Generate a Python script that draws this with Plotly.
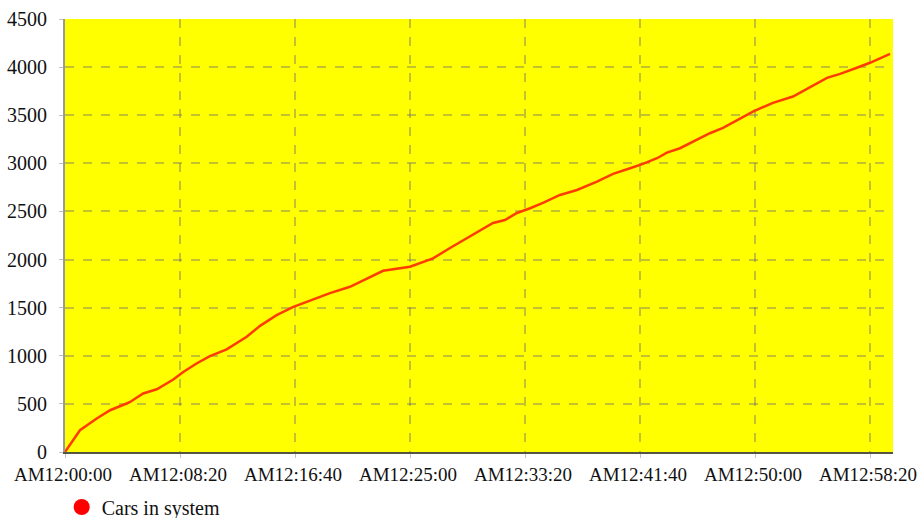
import plotly.graph_objects as go

# elapsed seconds since AM12:00:00
t_sec = [0, 65, 138, 196, 268, 283, 340, 399, 471, 514, 572, 630, 703, 790, 848, 920,
         993, 1152, 1239, 1383, 1500, 1600, 1674, 1774, 1861, 1913, 1965, 2022, 2078,
         2152, 2226, 2313, 2383, 2457, 2513, 2574, 2617, 2674, 2730, 2804, 2861, 2991,
         3078, 3165, 3313, 3370, 3443, 3500, 3587]
cars = [0, 226, 348, 434, 504, 520, 608, 652, 753, 832, 920, 996, 1066, 1197, 1311, 1422,
        1509, 1651, 1717, 1883, 1925, 2012, 2120, 2255, 2380, 2411, 2484, 2533, 2588,
        2671, 2723, 2810, 2890, 2949, 2994, 3053, 3111, 3157, 3226, 3313, 3368, 3538,
        3629, 3694, 3889, 3930, 3993, 4045, 4138]

x_tickvals = [0, 500, 1000, 1500, 2000, 2500, 3000, 3500]
x_ticktext = ["AM12:00:00", "AM12:08:20", "AM12:16:40", "AM12:25:00",
              "AM12:33:20", "AM12:41:40", "AM12:50:00", "AM12:58:20"]
y_tickvals = [0, 500, 1000, 1500, 2000, 2500, 3000, 3500, 4000, 4500]
series_name = "Cars in system"

FONT = "Liberation Serif, Times New Roman, serif"
GRID = "rgba(110,110,110,0.42)"

fig = go.Figure()
fig.add_trace(go.Scatter(x=t_sec, y=cars, mode="lines",
                         line=dict(color="#ff3c00", width=2.5),
                         showlegend=False, hoverinfo="x+y"))
fig.add_trace(go.Scatter(x=[None], y=[None], mode="markers", name=series_name,
                         marker=dict(color="#ff0000", size=18, symbol="circle")))

fig.update_layout(
    width=918, height=518,
    margin=dict(l=65, r=25, t=19, b=66, autoexpand=False),
    paper_bgcolor="white", plot_bgcolor="#ffff00",
    font=dict(family=FONT, size=20, color="#111111"),
    legend=dict(orientation="h", x=-0.004, xanchor="left", y=-0.082, yanchor="top",
                font=dict(family=FONT, size=20, color="#111111"),
                bgcolor="rgba(0,0,0,0)"),
)
fig.update_xaxes(range=[0, 3600], tickvals=x_tickvals, ticktext=x_ticktext,
                 automargin=False, ticklabeloverflow="allow", ticklabelshift=-2,
                 showgrid=True, gridcolor=GRID, griddash="dash", gridwidth=1.5,
                 showline=True, linecolor="#555544", linewidth=2,
                 ticks="outside", ticklen=4, tickcolor=GRID, zeroline=False,
                 tickfont=dict(family=FONT, size=19))
fig.update_yaxes(range=[0, 4500], tickvals=y_tickvals, automargin=False,
                 showgrid=True, gridcolor=GRID, griddash="dash", gridwidth=1.5,
                 showline=True, linecolor="#999999", linewidth=2,
                 ticks="outside", ticklen=4, tickcolor=GRID, zeroline=False,
                 ticklabelstandoff=8,
                 tickfont=dict(family=FONT, size=20))

fig.write_html("out.html", config={"displayModeBar": False},
               post_script="document.body.style.margin='0';document.body.style.overflow='hidden';")
